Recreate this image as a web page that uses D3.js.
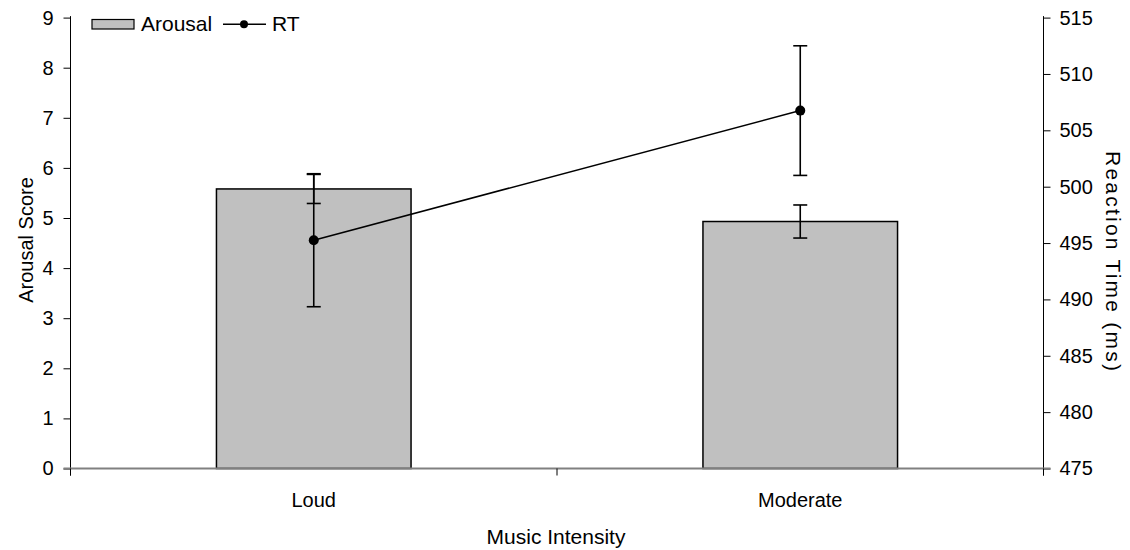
<!DOCTYPE html>
<html>
<head>
<meta charset="utf-8">
<script src="https://cdn.jsdelivr.net/npm/d3@7/dist/d3.min.js"></script>
<style>
  html, body { margin: 0; padding: 0; background: #fff; }
  svg { display: block; font-family: "Liberation Sans", Arial, sans-serif; }
  text { fill: #000; }
</style>
</head>
<body>
<svg id="chart" width="1130" height="550"></svg>
<script>
// Music intensity conditions
const categories = ["Loud", "Moderate"];
// Mean arousal score and its error
const arousal = [5.58, 4.93];
const arousalErr = [0.29, 0.33];
// Mean reaction time (ms) and its error
const rt = [495.25, 506.75];
const rtErr = [5.9, 5.75];
// Axis ticks
const leftTicks = [0, 1, 2, 3, 4, 5, 6, 7, 8, 9];
const rightTicks = [475, 480, 485, 490, 495, 500, 505, 510, 515];

const svg = d3.select("#chart");
const plotLeft = 70.5, plotRight = 1043.5, plotTop = 17.6, plotBottom = 468.5;
const fontSize = 20;
const titleSize = 21;

const x = d3.scaleBand().domain(categories).range([plotLeft, plotRight]).paddingInner(0).paddingOuter(0);
const yL = d3.scaleLinear().domain([0, 9]).range([plotBottom, plotTop]);
const yR = d3.scaleLinear().domain([475, 515]).range([plotBottom, plotTop]);
const barW = x.bandwidth() / 2.5;
const cx = d => x(d) + x.bandwidth() / 2;

// Bars
svg.append("g").selectAll("rect").data(categories).join("rect")
  .attr("x", d => cx(d) - barW / 2)
  .attr("y", (d, i) => yL(arousal[i]))
  .attr("width", barW)
  .attr("height", (d, i) => yL(0) - yL(arousal[i]))
  .attr("fill", "#c0c0c0")
  .attr("stroke", "#000")
  .attr("stroke-width", 1.5);

// Error bars helper
function errorBars(vals, errs, scale) {
  const g = svg.append("g").attr("stroke", "#000").attr("stroke-width", 1.6);
  categories.forEach((c, i) => {
    const xc = cx(c), hi = scale(vals[i] + errs[i]), lo = scale(vals[i] - errs[i]);
    g.append("line").attr("x1", xc).attr("x2", xc).attr("y1", hi).attr("y2", lo);
    g.append("line").attr("x1", xc - 7).attr("x2", xc + 7).attr("y1", hi).attr("y2", hi);
    g.append("line").attr("x1", xc - 7).attr("x2", xc + 7).attr("y1", lo).attr("y2", lo);
  });
}
errorBars(arousal, arousalErr, yL);

// Reaction time line
const line = d3.line().x((d, i) => cx(categories[i])).y(d => yR(d));
svg.append("path").datum(rt)
  .attr("d", line).attr("fill", "none").attr("stroke", "#000").attr("stroke-width", 1.6);
errorBars(rt, rtErr, yR);
svg.append("g").selectAll("circle").data(rt).join("circle")
  .attr("cx", (d, i) => cx(categories[i])).attr("cy", d => yR(d)).attr("r", 5).attr("fill", "#000");

// Left axis
const axL = svg.append("g").attr("transform", `translate(${plotLeft},0)`)
  .call(d3.axisLeft(yL).tickValues(leftTicks).tickSize(7).tickPadding(10));
// Right axis
const axR = svg.append("g").attr("transform", `translate(${plotRight},0)`)
  .call(d3.axisRight(yR).tickValues(rightTicks).tickSize(7).tickPadding(9));
[axL, axR].forEach(a => {
  a.select(".domain").attr("d", `M0,${plotTop - 1.5}V${plotBottom + 7}`).attr("stroke", "#000");
  a.selectAll(".tick line").attr("stroke", "#000");
  a.selectAll("text").attr("font-size", fontSize).attr("font-family", "Liberation Sans, Arial, sans-serif").attr("fill", "#000");
});

// Category axis
const ax = svg.append("g").attr("transform", `translate(0,${plotBottom})`);
ax.append("line").attr("x1", plotLeft - 7).attr("x2", plotRight + 7).attr("y1", 0).attr("y2", 0)
  .attr("stroke", "#808080").attr("stroke-width", 2);
[plotLeft, plotLeft + x.bandwidth(), plotRight].forEach(px => {
  ax.append("line").attr("x1", px).attr("x2", px).attr("y1", 0).attr("y2", 7).attr("stroke", "#000");
});
ax.selectAll("text").data(categories).join("text")
  .attr("x", d => cx(d)).attr("y", 38).attr("text-anchor", "middle")
  .attr("font-size", fontSize).text(d => d);

// Axis titles
svg.append("text").attr("transform", "translate(33,240) rotate(-90)")
  .attr("text-anchor", "middle").attr("font-size", fontSize).text("Arousal Score");
svg.append("text").attr("transform", "translate(1106,261) rotate(90)")
  .attr("text-anchor", "middle").attr("font-size", titleSize)
  .attr("textLength", 220).attr("lengthAdjust", "spacing").text("Reaction Time (ms)");
svg.append("text").attr("x", 556).attr("y", 544)
  .attr("text-anchor", "middle").attr("font-size", titleSize).text("Music Intensity");

// Legend
const lg = svg.append("g");
lg.append("rect").attr("x", 92).attr("y", 19.5).attr("width", 42).attr("height", 9.5)
  .attr("fill", "#c0c0c0").attr("stroke", "#000").attr("stroke-width", 1.2);
lg.append("text").attr("x", 141).attr("y", 30.5).attr("font-size", titleSize).text("Arousal");
lg.append("line").attr("x1", 223).attr("x2", 266).attr("y1", 24.3).attr("y2", 24.3)
  .attr("stroke", "#000").attr("stroke-width", 1.6);
lg.append("circle").attr("cx", 244).attr("cy", 24.3).attr("r", 4).attr("fill", "#000");
lg.append("text").attr("x", 272).attr("y", 30.5).attr("font-size", titleSize).text("RT");
</script>
</body>
</html>
